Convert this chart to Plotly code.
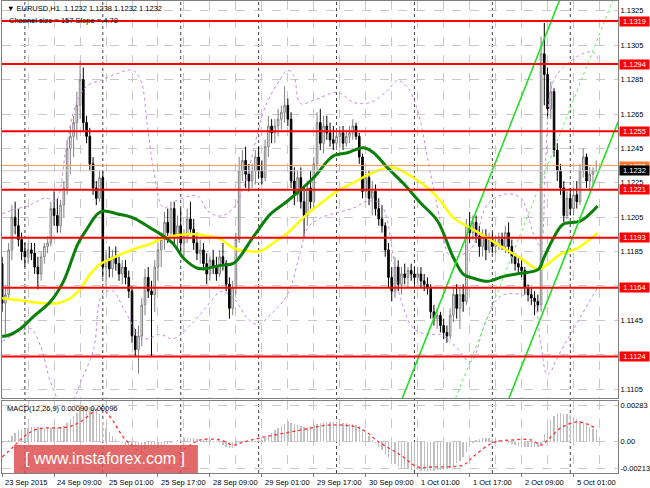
import plotly.graph_objects as go

# ---------------- data (prices in 1e-4 units above 1.0, e.g. 1178 = 1.1178) ----------------
BARS = list(range(184))
OPEN_P = [1178,1155,1160,1186,1205,1200,1192,1185,1182,1186,
          1184,1176,1172,1182,1188,1190,1210,1206,1200,1212,
          1222,1245,1252,1260,1270,1285,1260,1252,1236,1222,
          1216,1228,1176,1180,1175,1182,1178,1172,1176,1170,
          1162,1136,1128,1136,1154,1170,1162,1160,1176,1186,
          1192,1202,1196,1210,1194,1200,1190,1194,1204,1198,
          1190,1184,1186,1178,1172,1180,1176,1172,1182,1178,
          1166,1152,1164,1192,1232,1238,1230,1226,1232,1240,
          1232,1228,1246,1258,1254,1258,1262,1266,1270,1262,
          1226,1218,1228,1214,1206,1222,1214,1236,1260,1248,
          1258,1254,1250,1248,1252,1254,1248,1252,1254,1258,
          1252,1240,1220,1228,1216,1220,1210,1204,1200,1186,
          1170,1162,1176,1166,1172,1170,1174,1172,1170,1172,
          1168,1166,1164,1150,1146,1148,1142,1138,1136,1148,
          1160,1152,1160,1156,1200,1196,1202,1194,1188,1194,
          1186,1192,1188,1190,1192,1188,1196,1188,1182,1178,
          1176,1174,1164,1160,1158,1156,1154,1300,1288,1268,
          1278,1244,1232,1222,1206,1216,1210,1218,1214,1232,
          1240,1226,1230,1232]
HIGH_P = [1182,1165,1190,1212,1214,1210,1196,1190,1190,1190,
          1190,1182,1185,1190,1194,1214,1220,1216,1215,1226,
          1250,1258,1264,1278,1296,1292,1264,1257,1240,1226,
          1232,1232,1186,1188,1186,1188,1182,1180,1180,1174,
          1165,1140,1142,1158,1175,1176,1168,1180,1190,1196,
          1208,1210,1214,1214,1206,1210,1198,1210,1214,1204,
          1196,1192,1190,1184,1182,1186,1182,1186,1190,1180,
          1170,1168,1196,1240,1244,1246,1236,1236,1244,1246,
          1238,1250,1264,1262,1262,1268,1270,1281,1274,1266,
          1234,1232,1234,1222,1226,1232,1240,1266,1268,1264,
          1264,1260,1258,1256,1258,1258,1256,1258,1262,1260,
          1254,1242,1232,1232,1226,1224,1216,1212,1202,1190,
          1176,1182,1180,1176,1178,1176,1178,1176,1176,1176,
          1172,1170,1166,1154,1152,1150,1146,1142,1152,1164,
          1166,1164,1166,1204,1208,1206,1206,1200,1198,1198,
          1196,1196,1194,1196,1196,1200,1202,1192,1184,1182,
          1180,1176,1166,1164,1162,1160,1310,1318,1292,1284,
          1280,1248,1236,1226,1220,1222,1222,1226,1236,1245,
          1242,1234,1234,1238]
LOW_P = [1150,1137,1158,1180,1195,1188,1180,1176,1178,1180,
         1172,1163,1168,1178,1184,1188,1200,1196,1196,1205,
         1218,1230,1240,1250,1262,1255,1248,1232,1218,1212,
         1214,1170,1164,1170,1170,1174,1168,1166,1166,1158,
         1132,1124,1114,1130,1148,1158,1124,1150,1168,1176,
         1186,1190,1192,1188,1186,1184,1182,1190,1196,1186,
         1180,1178,1174,1166,1168,1172,1168,1170,1174,1162,
         1146,1148,1160,1190,1226,1222,1220,1222,1224,1228,
         1224,1226,1240,1248,1248,1252,1256,1260,1258,1222,
         1212,1214,1210,1193,1200,1210,1210,1232,1244,1242,
         1250,1246,1244,1244,1246,1244,1246,1248,1250,1250,
         1236,1216,1216,1212,1206,1206,1200,1196,1182,1164,
         1156,1158,1162,1160,1166,1164,1168,1166,1166,1164,
         1162,1160,1146,1142,1140,1138,1134,1132,1134,1144,
         1146,1140,1150,1154,1190,1192,1190,1182,1182,1180,
         1184,1184,1184,1186,1186,1184,1184,1178,1174,1172,
         1170,1160,1156,1154,1148,1150,1150,1270,1262,1262,
         1240,1226,1218,1202,1204,1206,1206,1210,1212,1228,
         1222,1220,1224,1232]
CLOSE_P = [1155,1160,1186,1205,1200,1192,1185,1182,1186,1184,
           1176,1172,1182,1188,1190,1210,1206,1200,1212,1222,
           1245,1252,1260,1270,1285,1260,1252,1236,1222,1216,
           1228,1176,1180,1175,1182,1178,1172,1176,1170,1162,
           1136,1128,1136,1154,1170,1162,1160,1176,1186,1192,
           1202,1196,1210,1194,1200,1190,1194,1204,1198,1190,
           1184,1186,1178,1172,1180,1176,1172,1182,1178,1166,
           1152,1164,1192,1232,1238,1230,1226,1232,1240,1232,
           1228,1246,1258,1254,1258,1262,1266,1270,1262,1226,
           1218,1228,1214,1206,1222,1214,1236,1260,1248,1258,
           1254,1250,1248,1252,1254,1248,1252,1254,1258,1252,
           1240,1220,1228,1216,1220,1210,1204,1200,1186,1170,
           1162,1176,1166,1172,1170,1174,1172,1170,1172,1168,
           1166,1164,1150,1146,1148,1142,1138,1136,1148,1160,
           1152,1160,1156,1200,1196,1202,1194,1188,1194,1186,
           1192,1188,1190,1192,1188,1196,1188,1182,1178,1176,
           1174,1164,1160,1158,1156,1154,1300,1288,1268,1278,
           1244,1232,1222,1206,1216,1210,1218,1214,1232,1240,
           1226,1230,1232,1232]

# moving averages (sampled)
GRN_BAR = [0,2.6,5.7,9.7,14.9,18.9,23.3,26.3,29.4,31.3,35.6,40.5,45.7,49.7,52.8,55.9,60.2,63.3,67.3,71.3,77.5,82.7,87.9,95.9,100.3,102.1,106.4,111.3,114.4,118.7,123.7,128.9,134.1,139.1,142.1,145.2,149.5,154.5,159.7,165.2,166.8,169.8,172.9,178.2,183.4]
GRN_VAL = [1135.6,1136.8,1140.3,1147.3,1156,1167.7,1189.3,1198.7,1206.9,1208.6,1206.9,1204.5,1198.7,1194,1189.3,1181.1,1175.3,1175.3,1177,1178.2,1194,1206.9,1214.4,1227.9,1237.8,1240.7,1242.5,1245.4,1242.5,1233.7,1224.4,1213.3,1202.8,1181.1,1171.8,1169.5,1167.7,1170.6,1172.4,1174.7,1181.1,1192.8,1201,1202.8,1211.5]
YEL_BAR = [0,5.5,12.6,17,21,24,27.1,30.2,33.3,37.3,41.6,45.6,49.6,52.7,58,63.2,67.2,71.2,75.5,79.5,83.5,87.9,94,98,103.3,108.2,113.4,118.7,121.8,126.7,131,135,139,144.3,149.5,154.4,159.7,165.2,168,172,177.3,183.4]
YEL_VAL = [1157.9,1156.7,1155,1155,1157.9,1163.1,1171.9,1177.7,1180.6,1184.1,1187.1,1189.4,1192.9,1194.1,1195.2,1194.1,1192.3,1187.1,1185.3,1185.3,1190,1195.8,1206.9,1212.8,1220.3,1225,1230.3,1233.8,1233.2,1227.9,1222.1,1214.5,1204.6,1198.7,1192.9,1187.1,1181.2,1174.8,1177.7,1183.5,1187.1,1195.8]
# envelope bands (sampled)
UP_BAR = [0,4.2,7.9,13.4,16.5,19.6,22.6,26.3,30.3,35.6,40.2,42.7,44.8,46.7,49.7,53.4,60.2,63.3,67.3,71.3,75,78.1,81.2,85.8,87.9,89.8,91.9,95.9,103.3,108.3,113.5,118.7,121.8,124.9,128,131,135,138.1,144.3,149.5,155.1,159.7,163.7,165.8,167.4,169.5,172.9,179.1,182.2,183.7]
UP_VAL = [1206.9,1209.8,1211.5,1216.2,1214.5,1243.6,1269.9,1281.6,1284.5,1288.6,1290.4,1284.5,1257.1,1232,1210.4,1214.4,1217.4,1208.6,1205.7,1210.4,1226.1,1249.5,1269.9,1285.7,1290.4,1287.5,1271.1,1272.9,1277.5,1271.7,1271.7,1278.7,1284.5,1280.4,1267,1239.6,1202.8,1182.3,1186.4,1212.7,1218.5,1216.2,1195.2,1188.2,1237.8,1282.8,1292.1,1300.3,1300.9,1296.2]
LO_BAR = [0,5.7,8.8,11.9,14.9,18,21.7,24.2,28.2,30.3,32.5,34.3,37.4,43.6,48.8,52.8,59,65.1,67.3,71.3,75.6,78.7,82.7,87.9,91.9,94.1,98.1,108.3,112.6,116.6,122.7,126.7,131.1,135,139.7,144.3,148.9,153.5,159.7,163.7,165.8,168,172,182.2,183.7]
LO_VAL = [1132.7,1138.5,1140.3,1129.7,1109.3,1097.6,1098.8,1109.3,1128.6,1157.8,1161.9,1161.9,1152,1134.4,1136.8,1134.4,1144.3,1157.8,1161.9,1157.8,1146.1,1142.6,1148.4,1160.1,1185.2,1198.7,1204.5,1210.4,1214.4,1212.7,1157.8,1140.3,1136.8,1136.8,1129.7,1121,1144.3,1159,1160.1,1156,1132.7,1113.4,1126.8,1160.1,1164.8]

# regression channel
CHANNEL_BARS = [120, 190]
CHANNEL_MID = [1.10056, 1.13402]
CHANNEL_HALF = 0.00785

# horizontal levels
LEVELS = [1.1319, 1.1294, 1.1255, 1.1221, 1.1193, 1.1164, 1.1124]
ASK = 1.1235
BID = 1.1232

# MACD (units of 1e-5)
MACD_HIST = [-15,-5,10,40,70,88,95,100,108,112,
             116,114,110,106,104,106,108,110,114,122,
             145,175,200,228,255,272,276,272,262,245,
             218,150,105,72,45,20,0,-15,-25,-30,
             -45,-60,-70,-72,-70,-66,-62,-55,-48,-40,
             -30,-20,-10,0,10,20,26,28,26,24,
             22,18,14,10,8,5,2,-10,-25,-40,
             -52,-50,-30,-5,5,6,4,2,4,8,
             15,30,50,70,90,110,125,140,150,148,
             140,130,122,118,115,120,130,140,148,152,
             155,155,152,150,148,145,142,140,138,132,
             120,100,75,45,15,-15,-40,-70,-100,-130,
             -160,-180,-195,-205,-212,-218,-222,-225,-228,-230,
             -230,-232,-232,-230,-228,-225,-222,-215,-205,-190,
             -170,-150,-120,-80,-40,-10,10,20,24,26,
             25,22,18,12,5,0,-10,-20,-28,-35,
             -40,-42,-44,-45,-44,-40,-20,60,120,170,
             200,215,222,220,215,205,190,175,160,145,
             130,115,100,90]
SIG_BAR = [0,3.4,6.5,10.8,20,24,28,30.2,33.3,37.3,41.6,45.6,48.7,52.7,57,61,67.2,71.2,74.3,79.5,92,101,110,116.5,122.7,128,133,142,145,151,157,163,166,168,172,177,181,183]
SIG_VAL = [-122,-43,35,98,114,154,232,264,193,35,-67,-122,-146,-122,-43,12,12,-28,-4,28,90,130,106,-12,-106,-200,-200,-185,-122,-12,12,12,-28,12,106,154,130,96]

XLABEL_BARS = [0,16,32,48,64,80,96,112,128,144,160,176]
XLABELS = ["23 Sep 2015","24 Sep 09:00","25 Sep 01:00","25 Sep 17:00","28 Sep 09:00",
           "29 Sep 01:00","29 Sep 17:00","30 Sep 09:00","1 Oct 01:00","1 Oct 17:00",
           "2 Oct 09:00","5 Oct 01:00"]
GRID_BARS = [8,24,40,56,72,88,104,120,136,152,168,184]
DAY_STARTS = [7,31,55,79,103,127,151,175]
PRICE_TICKS = [1.1105,1.1125,1.1145,1.1165,1.1185,1.1205,1.1225,1.1245,1.1265,1.1285,1.1305,1.1325]
PRICE_TICKTEXT = ["1.1105","","1.1145","","1.1185","1.1205","1.1225","1.1245","1.1265","1.1285","1.1305","1.1325"]
MACD_TICKS = [-0.00213, 0.0, 0.00283]
MACD_TICKTEXT = ["-0.00213", "0.00", "0.00283"]

# ---------------- figure ----------------
def pr(v):
    return 1.0 + v / 10000.0

FONT = "Liberation Sans, Arial, sans-serif"
fig = go.Figure()

fig.add_trace(go.Candlestick(
    x=BARS, open=[pr(v) for v in OPEN_P], high=[pr(v) for v in HIGH_P],
    low=[pr(v) for v in LOW_P], close=[pr(v) for v in CLOSE_P],
    xaxis="x2", yaxis="y",
    increasing=dict(line=dict(color="#808080", width=1), fillcolor="#ffffff"),
    decreasing=dict(line=dict(color="#000000", width=1), fillcolor="#000000"),
    whiskerwidth=0, hoverinfo="skip", showlegend=False))

for bx, bv in [(UP_BAR, UP_VAL), (LO_BAR, LO_VAL)]:
    fig.add_trace(go.Scatter(x=bx, y=[pr(v) for v in bv], mode="lines", xaxis="x2", yaxis="y",
                             line=dict(color="#c58ae8", width=1, dash="dot", shape="spline"),
                             hoverinfo="skip", showlegend=False))

fig.add_trace(go.Scatter(x=YEL_BAR, y=[pr(v) for v in YEL_VAL], mode="lines", xaxis="x2", yaxis="y",
                         line=dict(color="#ffff00", width=2.5, shape="spline"),
                         hoverinfo="skip", showlegend=False))
fig.add_trace(go.Scatter(x=GRN_BAR, y=[pr(v) for v in GRN_VAL], mode="lines", xaxis="x2", yaxis="y",
                         line=dict(color="#0a800a", width=3, shape="spline"),
                         hoverinfo="skip", showlegend=False))

# channel
fig.add_trace(go.Scatter(x=CHANNEL_BARS, y=[m + CHANNEL_HALF for m in CHANNEL_MID], mode="lines",
                         xaxis="x2", yaxis="y", line=dict(color="#22dd22", width=1.6),
                         hoverinfo="skip", showlegend=False))
fig.add_trace(go.Scatter(x=CHANNEL_BARS, y=[m - CHANNEL_HALF for m in CHANNEL_MID], mode="lines",
                         xaxis="x2", yaxis="y", line=dict(color="#22dd22", width=1.6),
                         hoverinfo="skip", showlegend=False))
fig.add_trace(go.Scatter(x=CHANNEL_BARS, y=CHANNEL_MID, mode="lines",
                         xaxis="x2", yaxis="y", line=dict(color="#66ee66", width=1, dash="dot"),
                         hoverinfo="skip", showlegend=False))

# MACD
fig.add_trace(go.Bar(x=BARS, y=[v * 1e-5 for v in MACD_HIST], xaxis="x", yaxis="y2",
                     marker=dict(color="#c0c0c0", line=dict(width=0)), width=0.42,
                     hoverinfo="skip", showlegend=False))
fig.add_trace(go.Scatter(x=SIG_BAR, y=[v * 1e-5 for v in SIG_VAL], mode="lines", xaxis="x", yaxis="y2",
                         line=dict(color="#ff3030", width=1.3, dash="dot", shape="spline"),
                         hoverinfo="skip", showlegend=False))

shapes = []
for d in DAY_STARTS:
    shapes.append(dict(type="line", xref="x", yref="paper", x0=d, x1=d, y0=0, y1=1,
                       line=dict(color="#404040", width=1, dash="dot"), layer="below"))
for lv in LEVELS:
    shapes.append(dict(type="line", xref="paper", yref="y", x0=0, x1=1, y0=lv, y1=lv,
                       line=dict(color="#ff0000", width=2)))
shapes.append(dict(type="line", xref="paper", yref="y", x0=0, x1=1, y0=ASK, y1=ASK,
                   line=dict(color="#ff9a5a", width=1)))
shapes.append(dict(type="line", xref="paper", yref="y", x0=0, x1=1, y0=BID, y1=BID,
                   line=dict(color="#c8c8c8", width=1)))
# watermark box
shapes.append(dict(type="rect", xref="paper", yref="paper", x0=0.0195, x1=0.318, y0=0.0, y1=0.0593,
                   fillcolor="rgba(222,80,80,0.85)", line=dict(width=0)))

ann = []
for lv in LEVELS:
    ann.append(dict(x=1, xref="paper", xanchor="left", xshift=1, y=lv, yref="y", yanchor="middle",
                    text=f"{lv:.4f}", showarrow=False, bgcolor="#ff0000", width=29, height=9,
                    borderpad=0, font=dict(family=FONT, size=7.5, color="white")))
ann.append(dict(x=1, xref="paper", xanchor="left", xshift=1, y=ASK, yref="y", yanchor="middle",
                text=f"{ASK:.4f}", showarrow=False, bgcolor="#ff7a30", width=29, height=8,
                borderpad=0, font=dict(family=FONT, size=7.5, color="white")))
ann.append(dict(x=1, xref="paper", xanchor="left", xshift=1, y=BID, yref="y", yanchor="middle",
                text=f"{BID:.4f}", showarrow=False, bgcolor="#000000", width=29, height=9,
                borderpad=0, font=dict(family=FONT, size=7.5, color="white")))
for b, t in zip(XLABEL_BARS, XLABELS):
    ann.append(dict(x=b, xref="x", xanchor="left", xshift=1, y=0, yref="paper", yanchor="top",
                    yshift=-3, text=t, showarrow=False, font=dict(family=FONT, size=7.5, color="black")))
last = BARS[-1]
hdr = "▼ EURUSD,H1  {:.4f} {:.4f} {:.4f} {:.4f}".format(pr(OPEN_P[last]), pr(HIGH_P[last]),
                                                      pr(LOW_P[last]), pr(CLOSE_P[last]))
ann.append(dict(x=0, xref="paper", xanchor="left", xshift=3, y=1, yref="paper", yanchor="top",
                yshift=-1, text=hdr, showarrow=False, font=dict(family=FONT, size=7.5, color="black")))
ann.append(dict(x=0, xref="paper", xanchor="left", xshift=5, y=1, yref="paper", yanchor="top",
                yshift=-13, text="Channel size = 157 Slope = 4.78", showarrow=False,
                font=dict(family=FONT, size=7.5, color="black")))
ann.append(dict(x=0, xref="paper", xanchor="left", xshift=3, y=0.1525, yref="paper", yanchor="top",
                yshift=-1, text="MACD(12,26,9) {:.5f} {:.5f}".format(MACD_HIST[-1] * 1e-5, SIG_VAL[-1] * 1e-5),
                showarrow=False, font=dict(family=FONT, size=7.5, color="black")))
ann.append(dict(x=0.168, xref="paper", xanchor="center", y=0.0297, yref="paper", yanchor="middle",
                text="[ www.instaforex.com ]", showarrow=False,
                font=dict(family=FONT, size=16, color="white")))

XR = [-0.05, 189.7]
grid = dict(showgrid=True, gridcolor="#c8c8c8", griddash="dash", gridwidth=1)
fig.update_layout(
    template="none", width=650, height=488,
    margin=dict(l=2, r=32, t=1, b=15, autoexpand=False),
    paper_bgcolor="white", plot_bgcolor="white", showlegend=False,
    bargap=0, barmode="overlay", hovermode=False,
    xaxis=dict(domain=[0, 1], anchor="y2", range=XR, tickmode="array", tickvals=XLABEL_BARS,
               showticklabels=False, ticks="outside", ticklen=3, tickcolor="#808080",
               minor=dict(tickvals=GRID_BARS, showgrid=True, gridcolor="#c8c8c8", griddash="dash", ticks=""),
               showline=True, linecolor="#808080", linewidth=1, mirror=True, zeroline=False,
               automargin=False, **grid),
    xaxis2=dict(domain=[0, 1], anchor="y", matches="x", range=XR, tickmode="array", tickvals=XLABEL_BARS,
                showticklabels=False, ticks="",
                minor=dict(tickvals=GRID_BARS, showgrid=True, gridcolor="#c8c8c8", griddash="dash", ticks=""),
                showline=True, linecolor="#808080", linewidth=1, mirror=True, zeroline=False,
                rangeslider=dict(visible=False), automargin=False, **grid),
    yaxis=dict(domain=[0.159, 1], anchor="x2", side="right", range=[1.10999, 1.13307],
               tickmode="array", tickvals=PRICE_TICKS, ticktext=PRICE_TICKTEXT,
               ticks="", tickfont=dict(family=FONT, size=7.5, color="black"),
               showline=True, linecolor="#808080", linewidth=1, mirror=True, zeroline=False,
               automargin=False, **grid),
    yaxis2=dict(domain=[0, 0.1525], anchor="x", side="right", range=[-0.00248, 0.00319],
                tickmode="array", tickvals=MACD_TICKS, ticktext=MACD_TICKTEXT,
                ticks="", tickfont=dict(family=FONT, size=7.5, color="black"),
                showline=True, linecolor="#808080", linewidth=1, mirror=True, zeroline=False,
                automargin=False, **grid),
    shapes=shapes, annotations=ann,
)

fig.write_html("out.html", config={"displayModeBar": False, "staticPlot": True},
               post_script="document.body.style.margin='0';document.body.style.overflow='hidden';")
